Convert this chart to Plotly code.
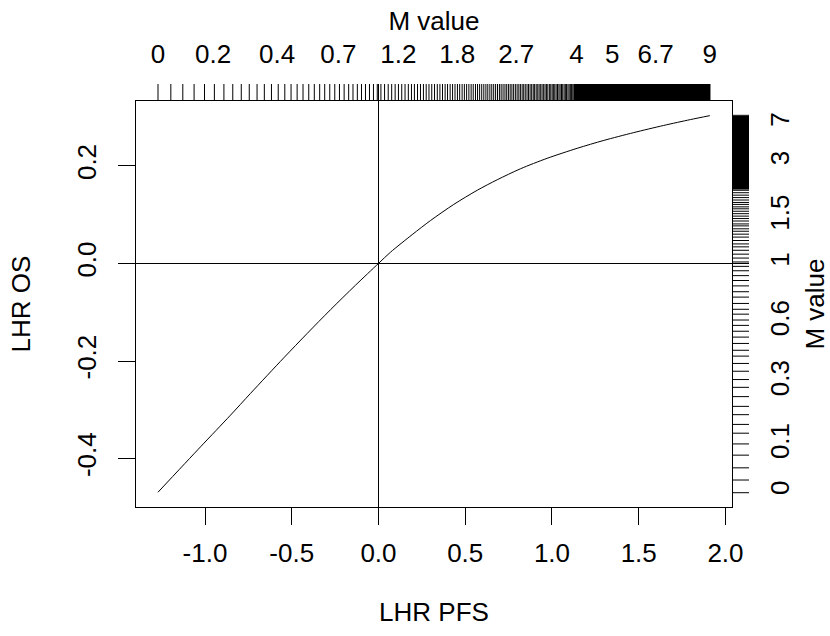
import plotly.graph_objects as go

# ---- data ----
lhr_pfs = [-1.271, -1.026, -0.853, -0.738, -0.546, -0.411, -0.277, -0.133, 0.0,
           0.069, 0.194, 0.300, 0.434, 0.569, 0.684, 0.818, 0.972, 1.145, 1.299,
           1.471, 1.644, 1.798, 1.910]
lhr_os = [-0.469, -0.376, -0.311, -0.2665, -0.1935, -0.1435, -0.095, -0.0448, 0.0,
          0.023, 0.059, 0.088, 0.121, 0.150, 0.1715, 0.194, 0.2155, 0.236, 0.2522,
          0.2682, 0.2829, 0.2949, 0.303]

x_tickvals = [-1.0, -0.5, 0.0, 0.5, 1.0, 1.5, 2.0]
x_ticktext = ["-1.0", "-0.5", "0.0", "0.5", "1.0", "1.5", "2.0"]
y_tickvals = [-0.4, -0.2, 0.0, 0.2]
y_ticktext = ["-0.4", "-0.2", "0.0", "0.2"]

top_m_labels = ["0", "0.2", "0.4", "0.7", "1.2", "1.8", "2.7", "4", "5", "6.7", "9"]
top_m_label_pfs = [-1.271, -0.953, -0.584, -0.231, 0.115, 0.454, 0.794, 1.141, 1.347, 1.597, 1.910]
right_m_labels = ["0", "0.1", "0.3", "0.6", "1", "1.5", "3", "7"]
right_m_label_os = [-0.468, -0.372, -0.243, -0.120, 0.000, 0.096, 0.208, 0.287]

# rug of M values along the top (in LHR PFS units)
top_rug_pfs = [-1.271, -1.197, -1.128, -1.063, -1.003, -0.946, -0.891, -0.840, -0.791, -0.745,
               -0.700, -0.658, -0.617, -0.578, -0.540, -0.504, -0.469, -0.435, -0.402, -0.370,
               -0.339, -0.310, -0.281, -0.252, -0.225, -0.198, -0.172, -0.147, -0.122, -0.098,
               -0.075, -0.052, -0.029, -0.007, 0.014, 0.035, 0.056, 0.076, 0.096, 0.115,
               0.134, 0.153, 0.172, 0.190, 0.207, 0.225, 0.242, 0.259, 0.275, 0.291,
               0.307, 0.323, 0.339, 0.354, 0.369, 0.384, 0.398, 0.413, 0.427, 0.441,
               0.455, 0.468, 0.482, 0.495, 0.508, 0.521, 0.534, 0.546, 0.559, 0.571,
               0.583, 0.595, 0.607, 0.619, 0.630, 0.642, 0.653, 0.664, 0.675, 0.686,
               0.697, 0.707, 0.718, 0.729, 0.739, 0.749, 0.759, 0.769, 0.779, 0.789,
               0.799, 0.809, 0.818, 0.828, 0.837, 0.846, 0.856, 0.865, 0.874, 0.883,
               0.892, 0.900, 0.909, 0.918, 0.926, 0.935, 0.943, 0.952, 0.960, 0.968,
               0.976, 0.985, 0.993, 1.001, 1.008, 1.016, 1.024, 1.032, 1.040, 1.047,
               1.055, 1.062, 1.070, 1.077, 1.084, 1.092, 1.099, 1.106, 1.113, 1.120, 1.127]
top_rug_solid = [1.127, 1.912]

# rug of M values along the right (in LHR OS units)
right_rug_os = [-0.470, -0.444, -0.419, -0.393, -0.370, -0.348, -0.330, -0.310, -0.293, -0.273,
                -0.254, -0.238, -0.221, -0.205, -0.190, -0.178, -0.164, -0.151, -0.139, -0.127,
                -0.116, -0.104, -0.094, -0.082, -0.069, -0.058, -0.046, -0.035, -0.025, -0.015,
                -0.006, 0.003, 0.011, 0.019, 0.027, 0.034, 0.040, 0.047, 0.054, 0.060,
                0.066, 0.071, 0.077, 0.081, 0.087, 0.092, 0.097, 0.102, 0.107, 0.112,
                0.116, 0.121, 0.125, 0.130, 0.135, 0.140, 0.145, 0.150]
right_rug_solid = [0.152, 0.304]

# ---- figure ----
FONT = "Liberation Sans, Arial, sans-serif"
FS = 26
W, H = 830, 636
ML, MR, MT, MB = 136, 81, 84, 129
pw, ph = W - ML - MR, H - MT - MB
box_right = (732 - ML) / pw
box_top = (507 - 101) / ph

x_range = [-1.3978, 2.0377]
y_range = [-0.4993, 0.333]

fig = go.Figure()

fig.add_trace(go.Scatter(x=lhr_pfs, y=lhr_os, mode="lines",
                         line=dict(color="black", width=1, shape="spline", smoothing=0.8),
                         xaxis="x", yaxis="y", hoverinfo="skip", showlegend=False))

tx, ty = [], []
for v in top_rug_pfs:
    tx += [v, v, None]
    ty += [0, 1, None]
fig.add_trace(go.Scatter(x=tx, y=ty, mode="lines", line=dict(color="black", width=1),
                         xaxis="x", yaxis="y3", hoverinfo="skip", showlegend=False))
a, b = top_rug_solid
fig.add_trace(go.Scatter(x=[a, b, b, a, a], y=[0, 0, 1, 1, 0], mode="lines", fill="toself",
                         fillcolor="black", line=dict(color="black", width=0.5),
                         xaxis="x", yaxis="y3", hoverinfo="skip", showlegend=False))

rx, ry = [], []
for v in right_rug_os:
    rx += [0, 1, None]
    ry += [v, v, None]
fig.add_trace(go.Scatter(x=rx, y=ry, mode="lines", line=dict(color="black", width=1),
                         xaxis="x3", yaxis="y", hoverinfo="skip", showlegend=False))
a, b = right_rug_solid
fig.add_trace(go.Scatter(x=[0, 1, 1, 0, 0], y=[a, a, b, b, a], mode="lines", fill="toself",
                         fillcolor="black", line=dict(color="black", width=0.5),
                         xaxis="x3", yaxis="y", hoverinfo="skip", showlegend=False))

# dummy trace so the labelled M axes are drawn
fig.add_trace(go.Scatter(x=[None], y=[None], xaxis="x2", yaxis="y2", showlegend=False,
                         hoverinfo="skip"))

axis_common = dict(showgrid=False, automargin=False,
                   tickfont=dict(family=FONT, size=FS, color="black"),
                   title_font=dict(family=FONT, size=FS, color="black"))

fig.update_layout(
    width=W, height=H, margin=dict(l=ML, r=MR, t=MT, b=MB, pad=0, autoexpand=False),
    paper_bgcolor="white", plot_bgcolor="white",
    font=dict(family=FONT, size=FS, color="black"),
    xaxis=dict(domain=[0, box_right], anchor="y", range=x_range, tickmode="array",
               tickvals=x_tickvals, ticktext=x_ticktext, ticks="outside", ticklen=17,
               tickwidth=1, tickcolor="black", showline=True, mirror=True, linecolor="black",
               linewidth=1, zeroline=True, zerolinecolor="black", zerolinewidth=1,
               ticklabelstandoff=6,
               title=dict(text="LHR PFS", standoff=35), **axis_common),
    yaxis=dict(domain=[0, box_top], anchor="x", range=y_range, tickmode="array",
               tickvals=y_tickvals, ticktext=y_ticktext, ticks="outside", ticklen=17,
               tickwidth=1, tickcolor="black", tickangle=-90, showline=True, mirror=True,
               linecolor="black", linewidth=1, zeroline=True, zerolinecolor="black",
               zerolinewidth=1, ticklabelstandoff=12,
               title=dict(text="LHR OS", standoff=33), **axis_common),
    xaxis2=dict(overlaying="x", anchor="y3", side="top", range=x_range, tickmode="array",
                tickvals=top_m_label_pfs, ticktext=top_m_labels, ticks="outside", ticklen=10,
                tickcolor="rgba(0,0,0,0)", showline=False, zeroline=False,
                title=dict(text="M value", standoff=0), **axis_common),
    yaxis2=dict(overlaying="y", anchor="x3", side="right", range=y_range, tickmode="array",
                tickvals=right_m_label_os, ticktext=right_m_labels, ticks="outside",
                ticklen=8, tickcolor="rgba(0,0,0,0)", tickangle=-90, showline=False,
                zeroline=False, title=dict(text="M value", standoff=13), **axis_common),
    xaxis3=dict(domain=[box_right, 1], anchor="y", range=[0, 1], visible=False),
    yaxis3=dict(domain=[box_top, 1], anchor="x", range=[0, 1], visible=False),
)

fig.write_html("out.html", config={"displayModeBar": False},
               post_script="document.body.style.margin='0';")
